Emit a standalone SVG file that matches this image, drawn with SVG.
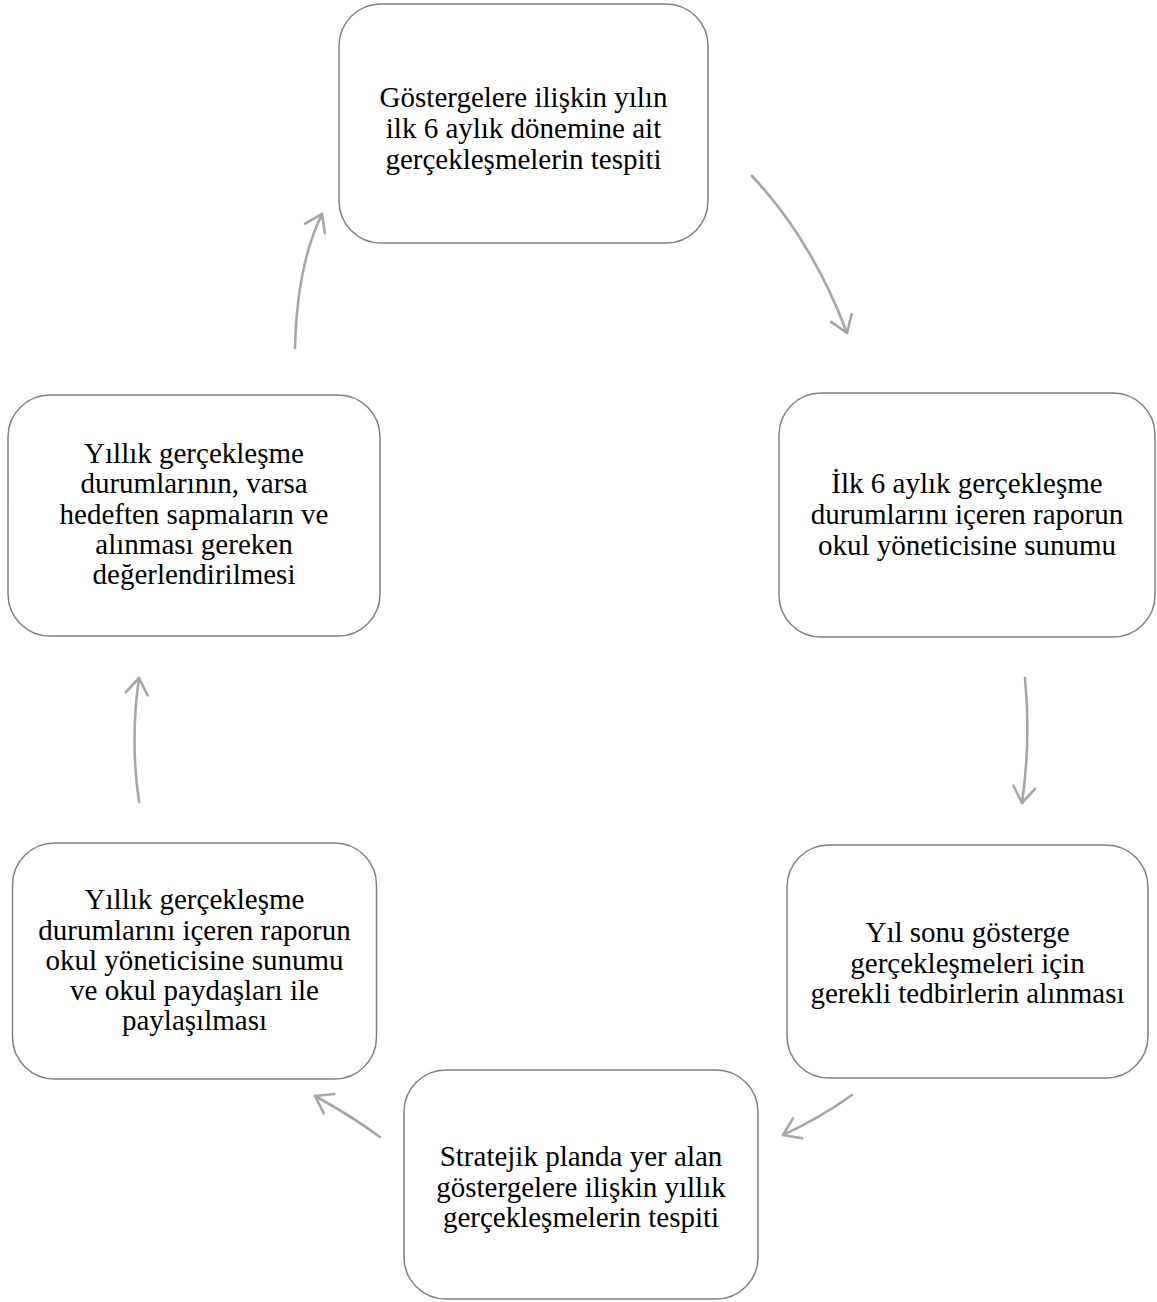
<svg xmlns="http://www.w3.org/2000/svg" width="1157" height="1302" viewBox="0 0 1157 1302">
<style>
.box{fill:#ffffff;stroke:#808080;stroke-width:1.5}
.t{font-family:"Liberation Serif","Times New Roman",serif;font-size:29px;fill:#000000;text-anchor:middle}
.arr{fill:none;stroke:#a6a6a6;stroke-width:2.6;stroke-linecap:round;marker-end:url(#head)}
</style>
<defs>
<marker id="head" markerUnits="userSpaceOnUse" viewBox="-20 -14 23 28" markerWidth="23" markerHeight="28" refX="0" refY="0" orient="auto" overflow="visible">
<path d="M-16,-11 L0,0 L-16,11" fill="none" stroke="#a6a6a6" stroke-width="2.6" stroke-linecap="round" stroke-linejoin="round"/>
</marker>
</defs>
<rect width="1157" height="1302" fill="#ffffff"/>
<g id="connectors">
<path class="arr" d="M752,176 Q812,240 847,333"/>
<path class="arr" d="M1025,678 Q1031,740 1022,803"/>
<path class="arr" d="M852,1095 Q820,1118 783,1135"/>
<path class="arr" d="M380,1137 Q350,1115 315,1096"/>
<path class="arr" d="M139,802 Q130,740 139,678"/>
<path class="arr" d="M295,348 Q297,265 322,214"/>
</g>
<g id="node1">
<rect class="box" x="339" y="4" width="369" height="239" rx="42"/>
<text class="t" x="523.5" y="107">Göstergelere ilişkin yılın</text>
<text class="t" x="523.5" y="138">ilk 6 aylık dönemine ait</text>
<text class="t" x="523.5" y="169">gerçekleşmelerin tespiti</text>
</g>
<g id="node2">
<rect class="box" x="779" y="393" width="376" height="244" rx="42"/>
<text class="t" x="967" y="493">İlk 6 aylık gerçekleşme</text>
<text class="t" x="967" y="524">durumlarını içeren raporun</text>
<text class="t" x="967" y="555">okul yöneticisine sunumu</text>
</g>
<g id="node3">
<rect class="box" x="787" y="845" width="361" height="233" rx="42"/>
<text class="t" x="967.5" y="942">Yıl sonu gösterge</text>
<text class="t" x="967.5" y="973">gerçekleşmeleri için</text>
<text class="t" x="967.5" y="1003">gerekli tedbirlerin alınması</text>
</g>
<g id="node4">
<rect class="box" x="404" y="1070" width="354" height="229" rx="42"/>
<text class="t" x="581" y="1166">Stratejik planda yer alan</text>
<text class="t" x="581" y="1197">göstergelere ilişkin yıllık</text>
<text class="t" x="581" y="1227">gerçekleşmelerin tespiti</text>
</g>
<g id="node5">
<rect class="box" x="12.5" y="843" width="364" height="236" rx="42"/>
<text class="t" x="194.5" y="909">Yıllık gerçekleşme</text>
<text class="t" x="194.5" y="940">durumlarını içeren raporun</text>
<text class="t" x="194.5" y="970">okul yöneticisine sunumu</text>
<text class="t" x="194.5" y="1000">ve okul paydaşları ile</text>
<text class="t" x="194.5" y="1030">paylaşılması</text>
</g>
<g id="node6">
<rect class="box" x="8" y="395" width="372" height="241" rx="42"/>
<text class="t" x="194" y="463">Yıllık gerçekleşme</text>
<text class="t" x="194" y="493">durumlarının, varsa</text>
<text class="t" x="194" y="524">hedeften sapmaların ve</text>
<text class="t" x="194" y="554">alınması gereken</text>
<text class="t" x="194" y="584">değerlendirilmesi</text>
</g>
</svg>
